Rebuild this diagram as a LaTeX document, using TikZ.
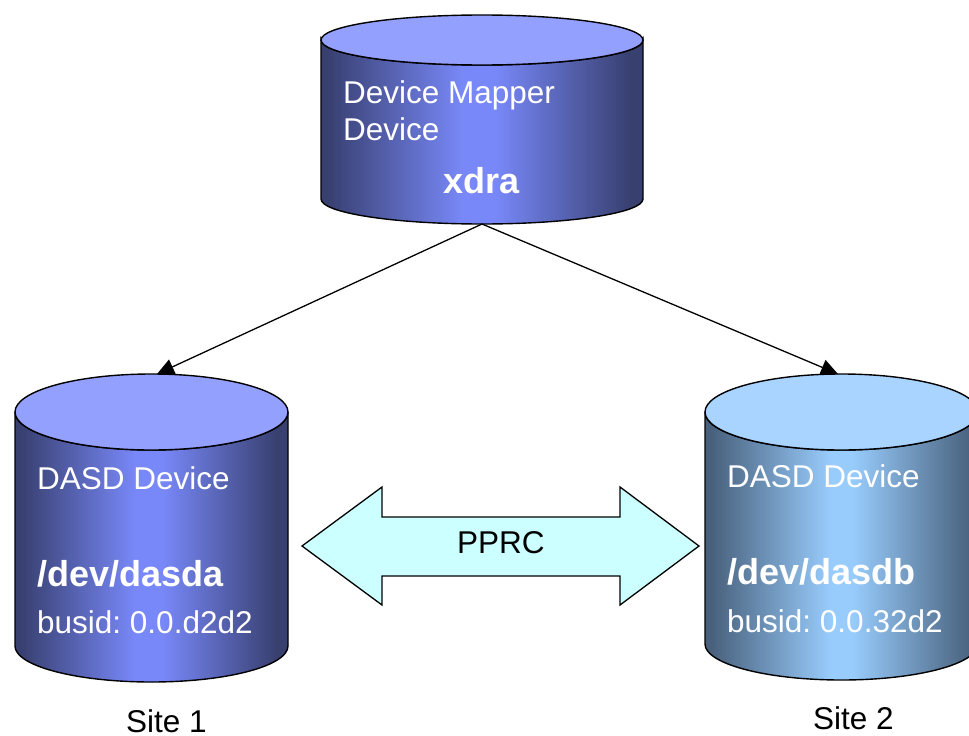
\documentclass[tikz,border=0pt]{standalone}
\usepackage{fontspec}
\setmainfont{Liberation Sans}
\usetikzlibrary{arrows.meta}
\frenchspacing
\definecolor{darkA}{HTML}{384070}
\definecolor{brightA}{HTML}{7888F8}
\definecolor{topA}{HTML}{94A0FD}
\definecolor{darkB}{HTML}{48607C}
\definecolor{brightB}{HTML}{98CCFC}
\definecolor{topB}{HTML}{A8D4FF}
\definecolor{pprcfill}{HTML}{CCFFFF}
\pgfdeclarehorizontalshading{cylA}{100bp}{color(0bp)=(darkA); color(26bp)=(darkA); color(47bp)=(brightA); color(52bp)=(brightA); color(73bp)=(darkA); color(100bp)=(darkA)}
\pgfdeclarehorizontalshading{cylB}{100bp}{color(0bp)=(darkB); color(26bp)=(darkB); color(48bp)=(brightB); color(52bp)=(brightB); color(74bp)=(darkB); color(100bp)=(darkB)}
\begin{document}
\frenchspacing
\begin{tikzpicture}[x=1pt,y=-1pt,
  outline/.style={draw=black,line width=1.4pt},
  reg/.style={inner sep=0pt,anchor=base west,font=\fontsize{31.5}{36}\selectfont},
  bld/.style={inner sep=0pt,anchor=base west,font=\fontsize{36}{40}\selectfont\bfseries},
  wtext/.style={text=white},
  conn/.style={line width=1.3pt,-{Triangle[length=17pt,width=16pt]}}
]
\useasboundingbox (0,0) rectangle (969,736);
\clip (0,0) rectangle (969,736);
\fill[white] (0,0) rectangle (969,736);

% top cylinder
\path[shading=cylA,outline] (321,40) -- (321,199) arc[start angle=180,end angle=0,x radius=161,y radius=25] -- (643,40) arc[start angle=0,end angle=180,x radius=161,y radius=25] -- cycle;
\path[fill=topA,outline] (482,40) ellipse[x radius=161,y radius=25];

% left cylinder
\path[shading=cylA,outline] (15,412) -- (15,646) arc[start angle=180,end angle=0,x radius=136.5,y radius=36] -- (288,412) arc[start angle=0,end angle=180,x radius=136.5,y radius=38] -- cycle;
\path[fill=topA,outline] (151.5,412) ellipse[x radius=136.5,y radius=38];

% right cylinder
\path[shading=cylB,outline] (705,412) -- (705,644) arc[start angle=180,end angle=0,x radius=136.5,y radius=36] -- (978,412) arc[start angle=0,end angle=180,x radius=136.5,y radius=38] -- cycle;
\path[fill=topB,outline] (841.5,412) ellipse[x radius=136.5,y radius=38];

% PPRC double arrow
\path[fill=pprcfill,draw=black,line width=1.3pt,line join=miter]
  (302,546) -- (382,487) -- (382,517) -- (620,517) -- (620,487) -- (699,546)
  -- (620,605) -- (620,576) -- (382,576) -- (382,605) -- cycle;
\node[reg] (pprc) at (457,553) {PPRC};

% connectors
\coordinate (xdrabot) at (482,224);
\coordinate (dasdatop) at (157,374);
\coordinate (dasdbtop) at (838,374);
\draw[conn] (xdrabot) -- (dasdatop);
\draw[conn] (xdrabot) -- (dasdbtop);

% texts top
\node[reg,wtext] (dm1) at (343,103) {Device Mapper};
\node[reg,wtext] (dm2) at (343,140) {Device};
\node[bld,wtext] (xdra) at (443,193) {xdra};

% texts left
\node[reg,wtext] (ldasd) at (37,489) {DASD Device};
\node[bld,wtext] (ldev) at (37,586) {/dev/dasda};
\node[reg,wtext] (lbus) at (37,633) {busid: 0.0.d2d2};
\node[reg] (site1) at (126,732) {Site 1};

% texts right
\node[reg,wtext] (rdasd) at (727,487) {DASD Device};
\node[bld,wtext] (rdev) at (727,584) {/dev/dasdb};
\node[reg,wtext] (rbus) at (727,632) {busid: 0.0.32d2};
\node[reg] (site2) at (813,729) {Site 2};
\end{tikzpicture}
\end{document}
